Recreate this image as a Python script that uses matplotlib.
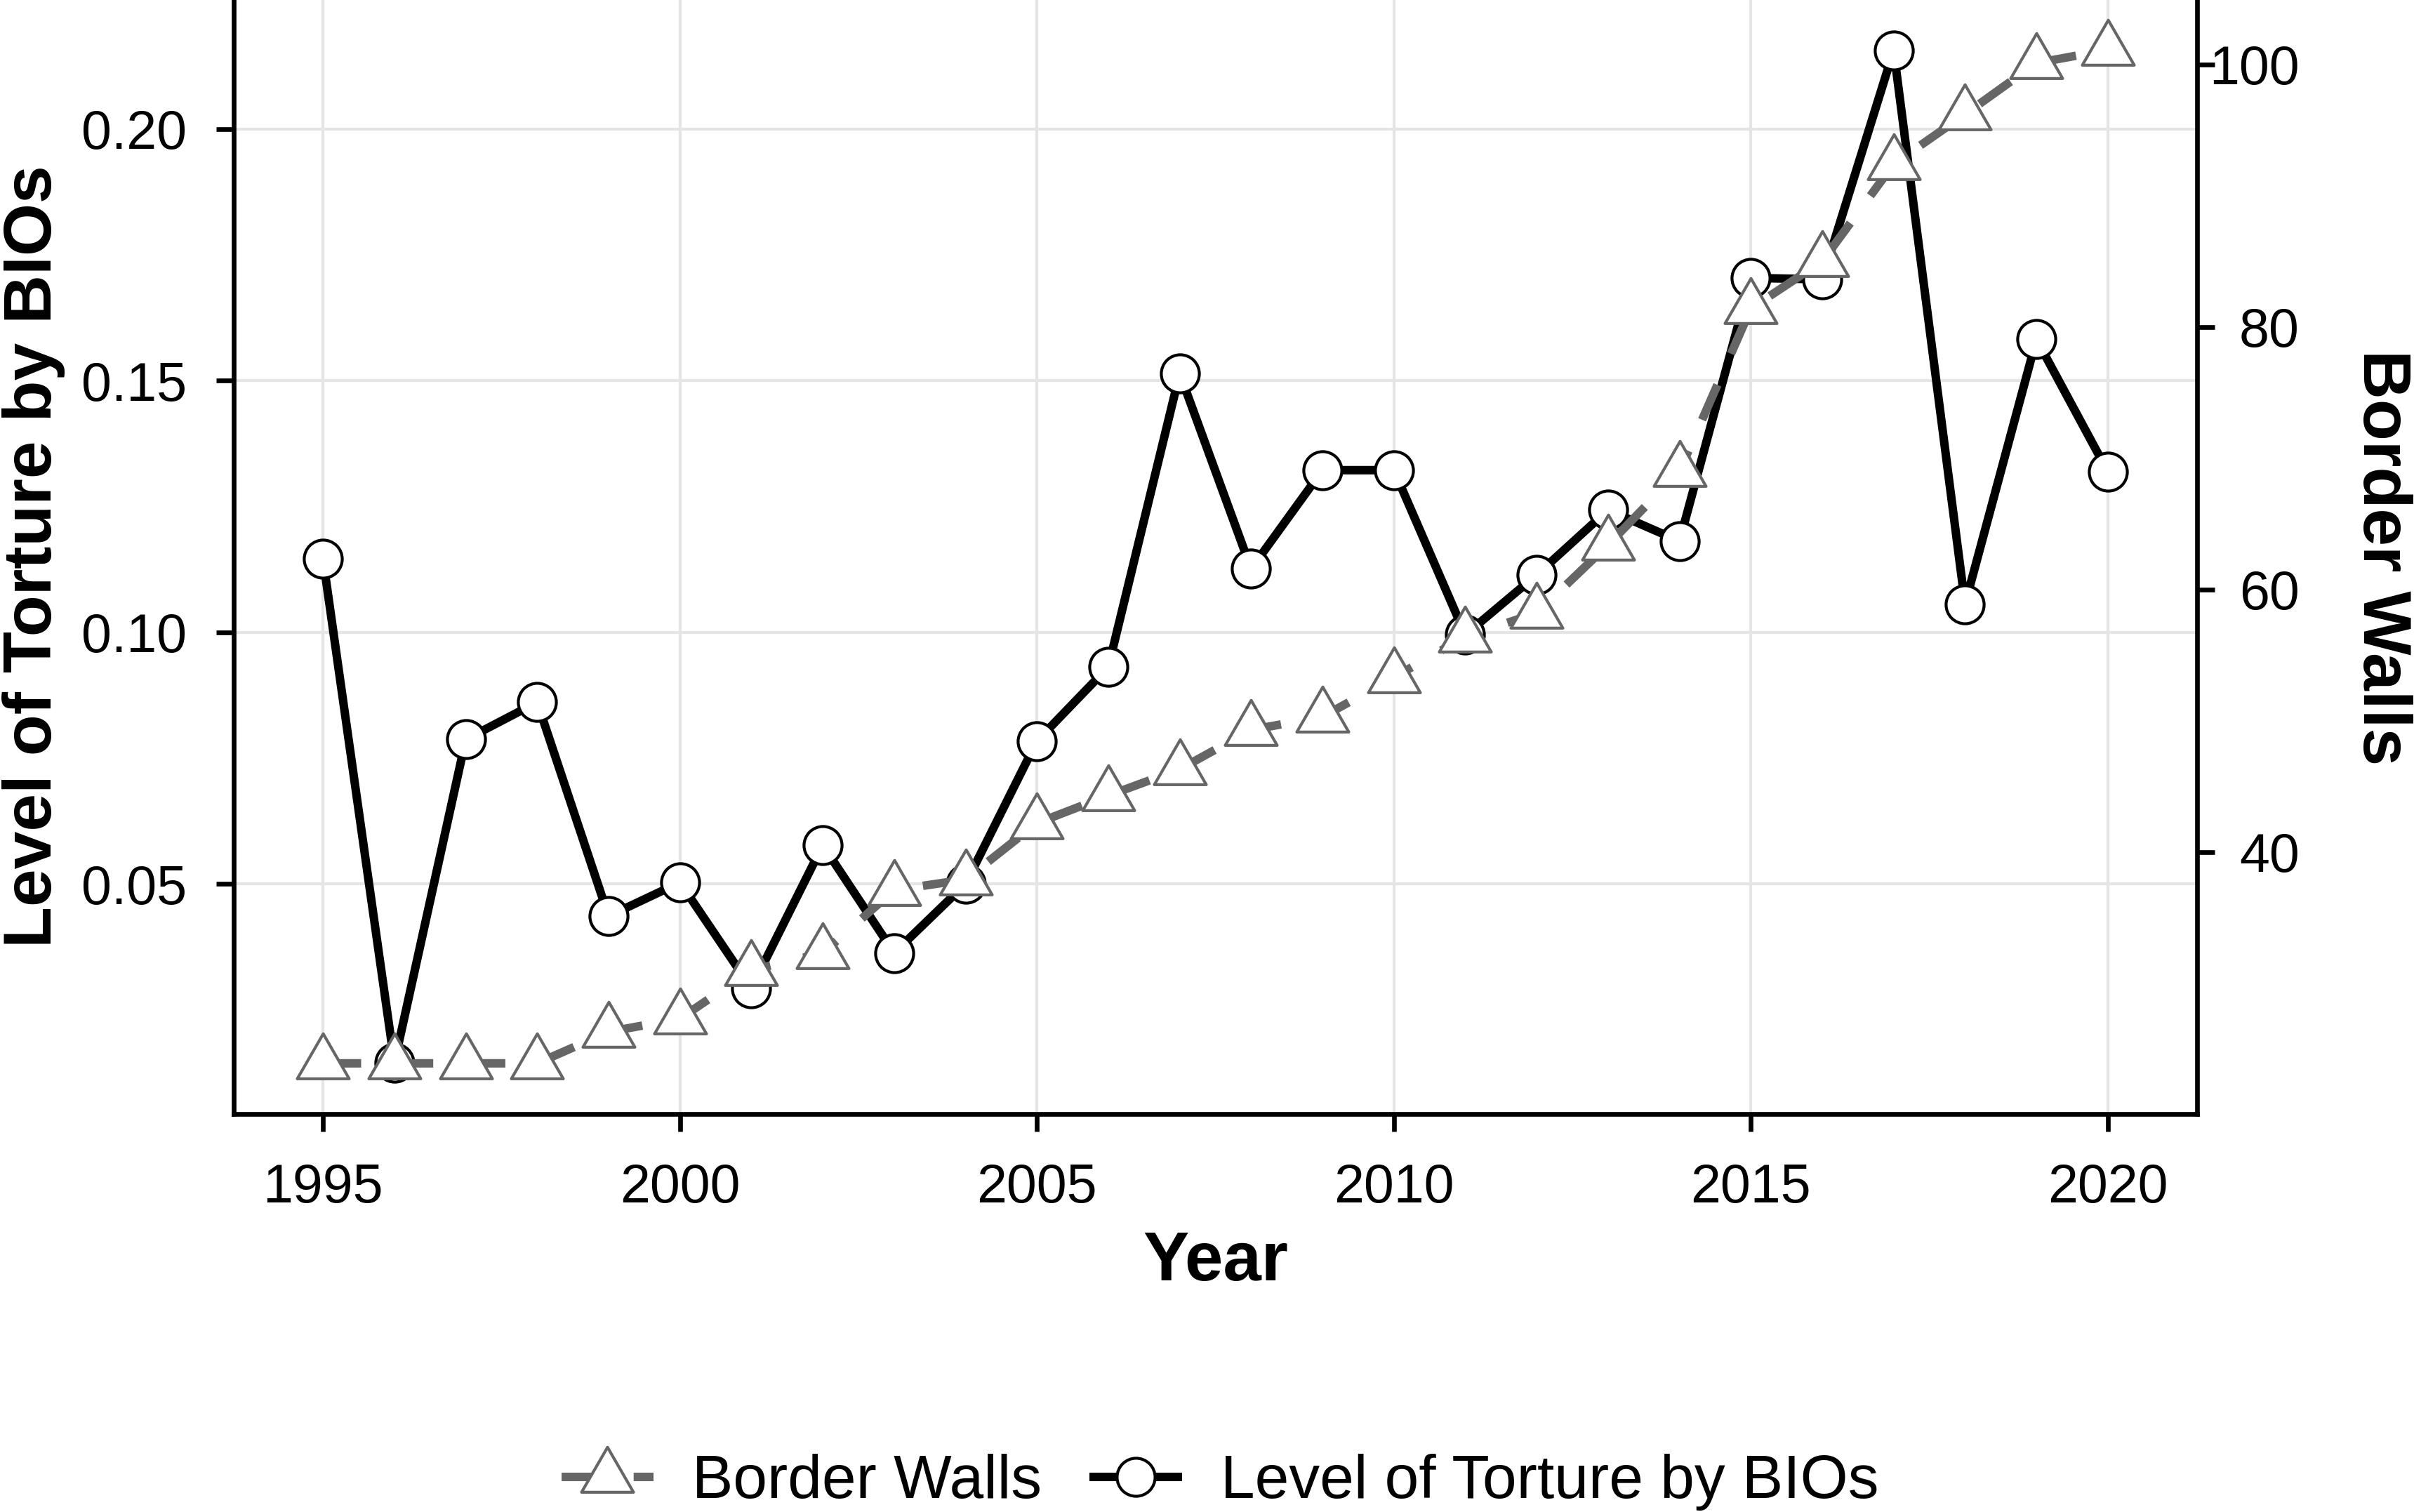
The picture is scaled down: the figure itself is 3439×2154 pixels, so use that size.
import matplotlib
matplotlib.use("Agg")
import matplotlib.pyplot as plt
from matplotlib.path import Path

plt.rcParams['font.family'] = ['Liberation Sans', 'DejaVu Sans']

# values
years = list(range(1995, 2021))
torture = [0.1146, 0.0145, 0.0787, 0.0861, 0.0436, 0.0503, 0.0293, 0.0577,
           0.0363, 0.0500, 0.0784, 0.0931, 0.1514, 0.1126, 0.1322, 0.1322,
           0.0995, 0.1114, 0.1243, 0.1181, 0.1704, 0.1701, 0.2156, 0.1056,
           0.1582, 0.1319]
walls = [23.9, 23.9, 23.9, 23.9, 26.3, 27.3, 31.0, 32.3, 37.1, 37.9,
         42.2, 44.3, 46.3, 49.3, 50.3, 53.3, 56.4, 58.2, 63.4, 69.0,
         81.4, 85.0, 92.4, 96.2, 100.1, 101.1]

x_ticks = [1995, 2000, 2005, 2010, 2015, 2020]
left_ticks = [0.05, 0.10, 0.15, 0.20]
right_ticks = [40, 60, 80, 100]

W, H = 3439, 2154
fig = plt.figure(figsize=(W / 300, H / 300), dpi=300)
ax = fig.add_axes([333 / W, 1 - 1587 / H, (3130 - 333) / W, 1587 / H])

ax.set_xlim(1993.75, 2021.25)
ax.set_ylim(0.0043, 0.2256)
ax.set_axisbelow(True)
ax.grid(True, color='#e5e5e5', linewidth=1.0)

ax.plot(years, torture, color='black', linewidth=2.9, solid_capstyle='butt',
        marker='o', markersize=13, markerfacecolor='white',
        markeredgecolor='black', markeredgewidth=1.0,
        label='Level of Torture by BIOs', zorder=3)

ax2 = ax.twinx()
ax2.set_ylim(20.04, 104.9)

# ggplot-style open triangle, centred on its centroid
tri = Path([(0, 1), (-0.866, -0.5), (0.866, -0.5), (0, 1)],
           [Path.MOVETO, Path.LINETO, Path.LINETO, Path.CLOSEPOLY])
ax2.plot(years, walls, color='#666666', linewidth=2.9,
         linestyle=(0, (4.5, 4)), dash_capstyle='butt',
         marker=tri, markersize=20.5, markerfacecolor='white',
         markeredgecolor='#666666', markeredgewidth=1.0,
         label='Border Walls', zorder=3)

# spines
for a in (ax, ax2):
    for s in a.spines.values():
        s.set_visible(False)
        s.set_linewidth(1.6)
ax.spines['left'].set_visible(True)
ax.spines['bottom'].set_visible(True)
ax2.spines['right'].set_visible(True)

ax.set_xticks(x_ticks)
ax.set_xticklabels([str(y) for y in x_ticks])
ax.set_yticks(left_ticks)
ax.set_yticklabels([f"{v:.2f}" for v in left_ticks])
ax2.set_yticks(right_ticks)
ax2.set_yticklabels([str(v) for v in right_ticks])

ax.tick_params(axis='x', length=6, width=1.6, labelsize=18.5, pad=10.5)
ax.tick_params(axis='y', length=6, width=1.6, labelsize=18.5, pad=10)
ax2.tick_params(axis='y', length=6, width=1.6, labelsize=18.5, pad=29)
for lbl in ax2.get_yticklabels():
    lbl.set_horizontalalignment('right')

# axis titles
fig.text(73 / W, 1 - 793 / H, 'Level of Torture by BIOs', rotation=90,
         rotation_mode='anchor', ha='center', va='baseline',
         fontsize=23.2, fontweight='bold')
fig.text(3367 / W, 1 - 794 / H, 'Border Walls', rotation=270,
         rotation_mode='anchor', ha='center', va='baseline',
         fontsize=23.2, fontweight='bold')
fig.text((333 + 3130) / 2 / W, 1 - 1824 / H, 'Year', ha='center',
         va='baseline', fontsize=23.5, fontweight='bold')

h1, l1 = ax2.get_legend_handles_labels()
h2, l2 = ax.get_legend_handles_labels()
fig.legend(h1 + h2, l1 + l2, loc='center', bbox_to_anchor=(0.5054, 0.0195),
           ncol=2, frameon=False, fontsize=21, handlelength=1.5,
           handletextpad=0.63, columnspacing=0.78)

fig.savefig('out.png', dpi=300)
